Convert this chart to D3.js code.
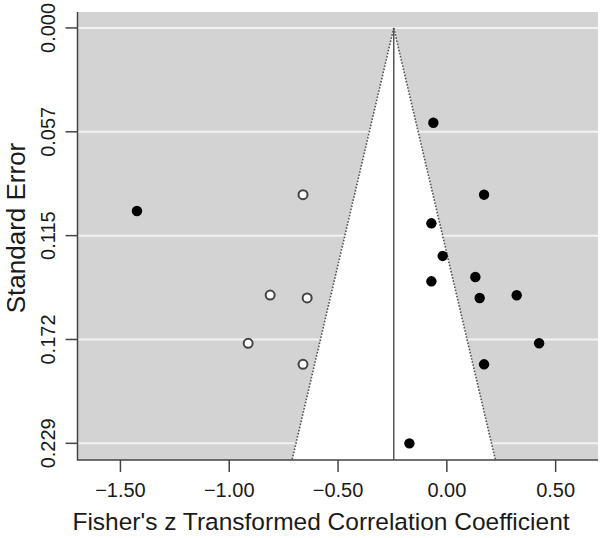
<!DOCTYPE html>
<html>
<head>
<meta charset="utf-8">
<script src="https://cdn.jsdelivr.net/npm/d3@7"></script>
<style>
  body { margin: 0; background: #fff; }
  svg { display: block; font-family: "Liberation Sans", Arial, Helvetica, sans-serif; }
</style>
</head>
<body>
<div class="home"></div>
<script>
// observed studies (filled) : Fisher's z and standard error
const obsZ  = [-0.062, 0.171, -1.424, -0.071, -0.019, -0.071, 0.131, 0.151, 0.321, 0.424, 0.171, -0.172];
const obsSE = [0.0523, 0.0920, 0.1010, 0.1078, 0.1258, 0.1398, 0.1374, 0.1490, 0.1475, 0.1740, 0.1856, 0.2292];
// imputed studies from trim and fill (open)
const fillZ  = [-0.661, -0.812, -0.642, -0.913, -0.661];
const fillSE = [0.0920, 0.1474, 0.1490, 0.1740, 0.1856];
// pooled estimate
const pooled = -0.244;
const xTicks = [-1.5, -1.0, -0.5, 0.0, 0.5];
const yTicks = [0, 0.0573, 0.1146, 0.1719, 0.2292];
const yTickLabels = ["0.000", "0.057", "0.115", "0.172", "0.229"];

const width = 600, height = 538;
const pLeft = 77.5, pRight = 598, pTop = 12, pBottom = 460;

const svg = d3.select(".home").append("svg")
  .attr("width", width)
  .attr("height", height);

const x = d3.scaleLinear().domain([-1.6973, 0.6946]).range([pLeft, pRight]);
const y = d3.scaleLinear().domain([-0.0088, 0.2384]).range([pTop, pBottom]);

// grey background
svg.append("rect")
  .attr("x", pLeft).attr("y", pTop)
  .attr("width", pRight - pLeft).attr("height", pBottom - pTop)
  .style("fill", "#d3d3d3");

// horizontal grid lines
svg.selectAll(".grid")
  .data(yTicks)
  .enter()
  .append("line")
  .attr("class", "grid")
  .attr("x1", pLeft)
  .attr("x2", pRight)
  .attr("y1", d => y(d)).attr("y2", d => y(d))
  .style("stroke", "#f2f2f2")
  .style("stroke-width", 2);

// white funnel region, on top of the grid
const seMax = y.invert(pBottom);
const funnel = [[pooled, 0], [pooled - 1.96 * seMax, seMax], [pooled + 1.96 * seMax, seMax]];
svg.append("path")
  .attr("d", d3.line().x(d => x(d[0])).y(d => y(d[1]))(funnel) + "Z")
  .style("fill", "#fff");

// funnel edges (dotted)
[-1, 1].forEach(s => {
  svg.append("line")
    .attr("x1", x(pooled)).attr("y1", y(0))
    .attr("x2", x(pooled + s * 1.96 * seMax)).attr("y2", y(seMax))
    .style("stroke", "#555")
    .style("stroke-width", 1.6)
    .style("stroke-dasharray", "1.6,1.6");
});

// pooled estimate line
svg.append("line")
  .attr("x1", x(pooled)).attr("x2", x(pooled))
  .attr("y1", y(0)).attr("y2", pBottom)
  .style("stroke", "#555")
  .style("stroke-width", 1.5);

// L-shaped box
svg.append("path")
  .attr("d", `M${pLeft},${pTop}V${pBottom}H${pRight}`)
  .style("fill", "none")
  .style("stroke", "#444")
  .style("stroke-width", 1.5);

// imputed points
svg.selectAll(".fill")
  .data(fillZ)
  .enter()
  .append("circle")
  .attr("class", "fill")
  .attr("cx", d => x(d))
  .attr("cy", (d, i) => y(fillSE[i]))
  .attr("r", 4.5)
  .style("fill", "#fff")
  .style("stroke", "#444")
  .style("stroke-width", 2);

// observed points
svg.selectAll(".obs")
  .data(obsZ)
  .enter()
  .append("circle")
  .attr("class", "obs")
  .attr("cx", d => x(d))
  .attr("cy", (d, i) => y(obsSE[i]))
  .attr("r", 5.2)
  .style("fill", "#000");

// x axis
const xAxis = svg.append("g");
xAxis.selectAll("line")
  .data(xTicks)
  .enter()
  .append("line")
  .attr("x1", d => x(d)).attr("x2", d => x(d))
  .attr("y1", pBottom).attr("y2", pBottom + 12)
  .style("stroke", "#444")
  .style("stroke-width", 1.5);
xAxis.selectAll("text")
  .data(xTicks)
  .enter()
  .append("text")
  .attr("x", d => x(d))
  .attr("y", 497)
  .style("text-anchor", "middle")
  .style("font-size", "20px")
  .style("fill", "#1a1a1a")
  .text(d => d3.format(".2f")(d).replace("-", "\u2212"));

// y axis
const yAxis = svg.append("g");
yAxis.selectAll("line")
  .data(yTicks)
  .enter()
  .append("line")
  .attr("x1", pLeft - 12).attr("x2", pLeft)
  .attr("y1", d => y(d)).attr("y2", d => y(d))
  .style("stroke", "#444")
  .style("stroke-width", 1.5);
yAxis.selectAll("text")
  .data(yTicks)
  .enter()
  .append("text")
  .attr("transform", d => "translate(55," + y(d) + ") rotate(-90)")
  .style("text-anchor", "middle")
  .style("font-size", "20px")
  .style("fill", "#1a1a1a")
  .text((d, i) => yTickLabels[i]);

// axis titles
svg.append("text")
  .attr("x", 321)
  .attr("y", 530)
  .style("text-anchor", "middle")
  .style("font-size", "24.5px")
  .style("fill", "#1a1a1a")
  .text("Fisher's z Transformed Correlation Coefficient");

svg.append("text")
  .attr("transform", "translate(25,228) rotate(-90)")
  .style("text-anchor", "middle")
  .style("font-size", "26px")
  .style("fill", "#1a1a1a")
  .text("Standard Error");
</script>
</body>
</html>
